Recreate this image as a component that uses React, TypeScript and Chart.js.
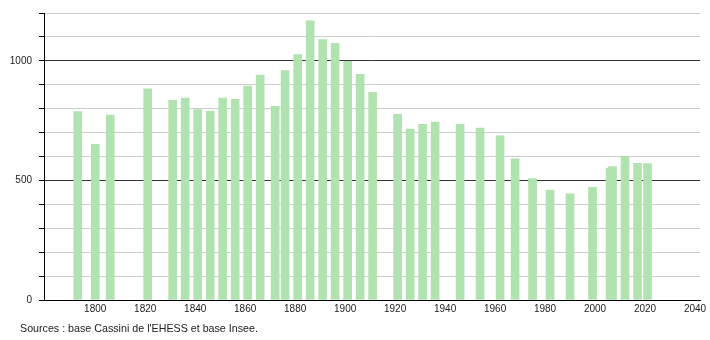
import React, { useEffect, useRef } from "react";
import { Chart, registerables } from "chart.js";

Chart.register(...registerables);

const years = [1793, 1800, 1806, 1821, 1831, 1836, 1841, 1846, 1851, 1856, 1861, 1866, 1872, 1876, 1881, 1886, 1891, 1896, 1901, 1906, 1911, 1921, 1926, 1931, 1936, 1946, 1954, 1962, 1968, 1975, 1982, 1990, 1999, 2006, 2007, 2012, 2017, 2021];
const population = [788, 651, 773, 883, 835, 844, 796, 790, 844, 839, 894, 940, 810, 959, 1026, 1167, 1089, 1073, 998, 944, 868, 776, 715, 735, 744, 735, 719, 686, 590, 508, 460, 444, 471, 552, 558, 600, 571, 570];
const yMajorTicks = [0, 500, 1000];
const xTickYears = [1800, 1820, 1840, 1860, 1880, 1900, 1920, 1940, 1960, 1980, 2000, 2020, 2040];
const sourceText = "Sources : base Cassini de l'EHESS et base Insee.";

export default function App() {
  const ref = useRef<HTMLCanvasElement | null>(null);
  useEffect(() => {
    if (!ref.current) return;
    const chart = new Chart(ref.current, {
      type: "bar",
      data: {
        datasets: [
          {
            data: years.map((y, i) => ({ x: y, y: population[i] })),
            backgroundColor: "#b0e3b0",
            borderWidth: 0,
            barThickness: 8,
          },
        ],
      },
      options: {
        responsive: false,
        animation: false,
        layout: { padding: { top: 10, right: 10, left: 0, bottom: 0 } },
        plugins: { legend: { display: false }, tooltip: { enabled: false } },
        scales: {
          x: {
            type: "linear",
            offset: false,
            min: 1779.5,
            max: 2042,
            afterFit: (s: any) => {
              s.height = 40;
            },
            ticks: {
              stepSize: 20,
              includeBounds: false,
              autoSkip: false,
              maxRotation: 0,
              padding: 3,
              color: "#222",
              font: { family: "'Liberation Sans', Arial, sans-serif", size: 10 },
              callback: (v: any) => (xTickYears.includes(Number(v)) ? String(v) : ""),
            },
            grid: { display: true, color: "rgba(0,0,0,0)", drawTicks: false, offset: false },
            border: { display: true, color: "#000", width: 1 },
          },
          y: {
            min: 0,
            max: 1200,
            afterFit: (s: any) => {
              s.width = 44;
            },
            ticks: {
              stepSize: 100,
              autoSkip: false,
              padding: 7,
              color: "#222",
              font: { family: "'Liberation Sans', Arial, sans-serif", size: 10 },
              callback: (v: any) => (yMajorTicks.includes(Number(v)) ? String(v) : ""),
            },
            grid: {
              color: (ctx: any) => (ctx.tick && (ctx.tick.value === 500 || ctx.tick.value === 1000) ? "#333" : "#cccccc"),
              tickColor: "#000",
              tickLength: 5,
            },
            border: { display: true, color: "#000", width: 1 },
          },
        },
      },
    });
    return () => chart.destroy();
  }, []);
  return (
    <div style={{ position: "fixed", left: 0, top: 0, width: 710, height: 340, background: "#fff" }}>
      <canvas ref={ref} width={710} height={340} style={{ display: "block" }} />
      <div
        style={{
          position: "absolute",
          left: 20,
          top: 322,
          fontFamily: "'Liberation Sans', Arial, sans-serif",
          fontSize: 10.7,
          color: "#222",
          whiteSpace: "nowrap",
        }}
      >
        {sourceText}
      </div>
    </div>
  );
}
